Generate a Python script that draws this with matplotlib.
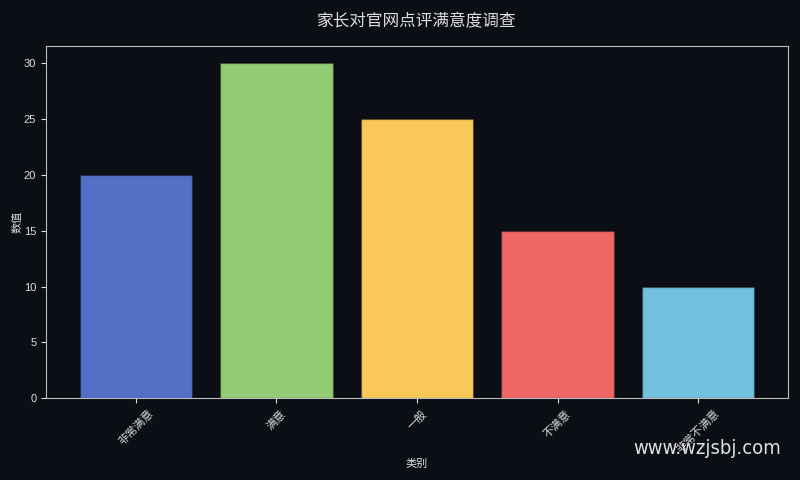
import matplotlib
matplotlib.use("Agg")
import matplotlib.pyplot as plt

# data
categories = ['非常满意', '满意', '一般', '不满意', '非常不满意']
values = [20, 30, 25, 15, 10]
colors = ['#5470c6', '#91cc75', '#fac858', '#ee6666', '#73c0de']

plt.rcParams['font.family'] = ['Liberation Sans', 'Noto Sans CJK SC', 'DejaVu Sans']

bg = '#0b0e14'
fg = '#dddddd'

fig, ax = plt.subplots(figsize=(8, 4.8), dpi=100)
fig.patch.set_facecolor(bg)
ax.set_facecolor(bg)

ax.bar(categories, values, color=colors, width=0.8,
       edgecolor=(0, 0, 0, 0.25), linewidth=1)

ax.set_title('家长对官网点评满意度调查', color=fg, fontsize=12, pad=14)
ax.set_xlabel('类别', color=fg, fontsize=8, labelpad=3)
ax.set_ylabel('数值', color=fg, fontsize=8, labelpad=1)

ax.tick_params(colors=fg, labelsize=8)
plt.setp(ax.get_xticklabels(), rotation=45)
for spine in ax.spines.values():
    spine.set_color('#bbbbbb')

plt.subplots_adjust(left=0.0575, right=0.985, top=0.904, bottom=0.17)

# watermark
fig.text(0.976, 0.065, 'www.wzjsbj.com', color='#e0e0e0', fontsize=14.5,
         ha='right', va='center', family='DejaVu Sans', fontstretch='condensed')

fig.savefig('out.png', facecolor=bg)
